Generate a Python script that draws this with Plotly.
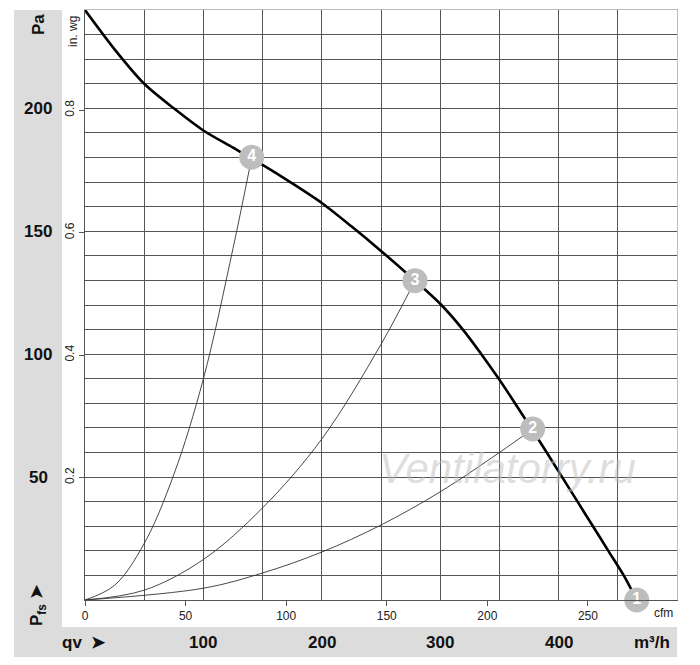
import plotly.graph_objects as go

# fan curve (m3/h, Pa)
fan_q = [0, 25, 50, 75, 100, 125, 150, 175, 200, 225, 250, 275, 300, 320, 334, 348, 360, 378,
         390, 403, 416, 429, 442, 455, 466]
fan_p = [240, 224, 210, 200, 191, 184, 177, 169.5, 161.5, 152, 142, 131.5, 120.5, 109.5, 100.5, 91, 82.4, 69,
         60, 50, 40, 30, 20, 10, 0]

# system curves (m3/h, Pa)
sys4_q = [0, 25, 50, 75, 100, 125, 140.8]
sys4_p = [0, 6, 23, 51, 90, 143, 180]
sys3_q = [0, 50, 100, 150, 200, 250, 278.7]
sys3_p = [0, 4, 16.5, 37.5, 65.5, 104, 129.9]
sys2_q = [0, 100, 150, 200, 250, 300, 350, 378.1]
sys2_p = [0, 4.8, 11, 19.5, 30.5, 44, 60, 69.6]

# operating points
pt_q = [466, 378.1, 278.7, 140.8]
pt_p = [0, 69.6, 129.9, 180.1]
pt_lbl = ["1", "2", "3", "4"]

pa_ticks = [50, 100, 150, 200]
m3h_ticks = [100, 200, 300, 400]
cfm_ticks = [0, 50, 100, 150, 200, 250]
inwg_ticks = [0.2, 0.4, 0.6, 0.8]

FONT = "Liberation Sans, Arial, sans-serif"
CFM = 1.699      # m3/h per cfm
INWG = 249.09    # Pa per in. wg
X_MAX, Y_MAX = 500, 240

fig = go.Figure()

for q, p in [(sys4_q, sys4_p), (sys3_q, sys3_p), (sys2_q, sys2_p)]:
    fig.add_trace(go.Scatter(x=q, y=p, mode="lines", line=dict(color="#333", width=0.9, shape="spline"),
                             hoverinfo="skip", showlegend=False))

fig.add_trace(go.Scatter(x=fan_q, y=fan_p, mode="lines",
                         line=dict(color="black", width=2.6, shape="spline", smoothing=0.8),
                         showlegend=False))

fig.add_trace(go.Scatter(x=pt_q, y=pt_p, mode="markers+text", text=pt_lbl, textposition="middle center",
                         marker=dict(size=25, color="#bdbdbd", line=dict(width=0)),
                         textfont=dict(family=FONT, size=16, color="white", weight="bold"),
                         cliponaxis=False, showlegend=False))

# carrier for the cfm / in. wg axes
fig.add_trace(go.Scatter(x=[0], y=[0], xaxis="x2", yaxis="y2", mode="markers",
                         marker=dict(opacity=0), hoverinfo="skip", showlegend=False))

# page body has an 8px margin, so the figure is 692x657 to fill the 700x665 window
fig.update_layout(
    width=692, height=657,
    margin=dict(l=77, r=23, t=2, b=65),
    paper_bgcolor="white", plot_bgcolor="white",
    font=dict(family=FONT, color="#111"),
    xaxis=dict(range=[0, X_MAX], dtick=50, showgrid=True, gridcolor="#555", gridwidth=1,
               showticklabels=False, ticks="", zeroline=False,
               showline=True, linecolor="#bbb", mirror=True),
    yaxis=dict(range=[0, Y_MAX], dtick=10, showgrid=True, gridcolor="#555", gridwidth=1,
               showticklabels=False, ticks="", zeroline=False,
               showline=True, linecolor="#bbb", mirror=True),
    xaxis2=dict(range=[0, X_MAX / CFM], overlaying="x", side="bottom", anchor="y",
                tickvals=cfm_ticks, ticks="outside", ticklen=5, tickcolor="#555",
                showline=True, linecolor="#555",
                showgrid=False, zeroline=False, tickfont=dict(size=12, color="#222")),
    yaxis2=dict(range=[0, Y_MAX / INWG], overlaying="y", side="left", anchor="x",
                tickvals=inwg_ticks, ticktext=[f"{v:.1f}" for v in inwg_ticks],
                ticks="outside", ticklen=5, tickcolor="#555", tickangle=-90,
                showline=True, linecolor="#555",
                showgrid=False, zeroline=False, tickfont=dict(size=12, color="#222")),
    hovermode=False,
)


def px_x(px):
    return (px - 85) / 592


def px_y(py):
    return (600 - py) / 590


def label(x, y, text, font, xref="paper", yref="paper", angle=0):
    fig.add_annotation(x=x, y=y, xref=xref, yref=yref, text=text, textangle=angle,
                       xanchor="center", yanchor="middle", showarrow=False, font=font)


# gray bands
fig.add_shape(type="rect", xref="paper", yref="paper", x0=px_x(14), x1=px_x(62), y0=px_y(657), y1=px_y(10),
              fillcolor="#dcdcdc", line=dict(width=0), layer="below")
fig.add_shape(type="rect", xref="paper", yref="paper", x0=px_x(14), x1=px_x(677), y0=px_y(657), y1=px_y(627),
              fillcolor="#dcdcdc", line=dict(width=0), layer="below")

bold = dict(family=FONT, size=17, color="#111", weight="bold")
small = dict(family=FONT, size=12, color="#222")

for v in pa_ticks:
    label(px_x(38), v, str(v), bold, yref="y")
for v in m3h_ticks:
    label(v, px_y(642), str(v), bold, xref="x")

label(px_x(38), px_y(25), "Pa", bold, angle=-90)
label(px_x(38), px_y(605), "P<sub>fs</sub> ➤", bold, angle=-90)
label(px_x(84), px_y(642), "qv  ➤", bold)
label(px_x(652), px_y(642), "m³/h", bold)
label(px_x(73), px_y(32), "in. wg", small, angle=-90)
label(px_x(663), px_y(613), "cfm", small)

# watermark
label(px_x(507), px_y(468), "<i>Ventilatorry.ru</i>",
      dict(family=FONT, size=42, color="rgba(190,190,190,0.5)"))

fig.write_html("out.html")
